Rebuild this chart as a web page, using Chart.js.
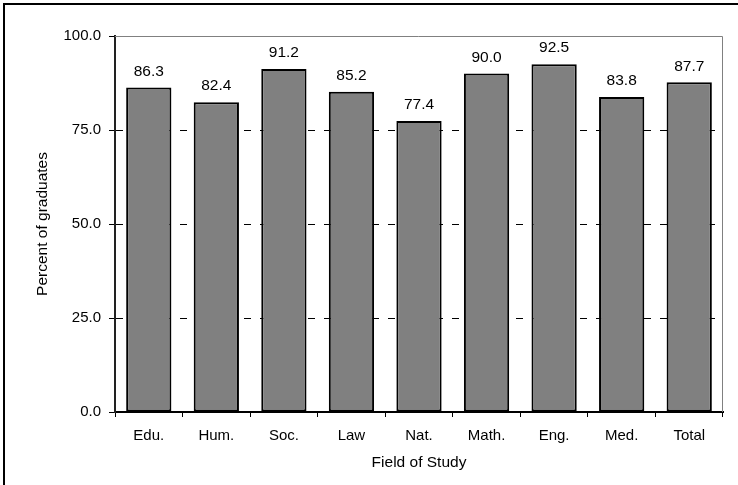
<!DOCTYPE html>
<html lang="en">
<head>
    <meta charset="UTF-8">
    <title>Percent of graduates by field of study</title>
    <script src="https://cdn.jsdelivr.net/npm/chart.js"></script>
    <style>
        html, body { margin: 0; padding: 0; background: #fff; }
        #wrap { width: 738px; height: 485px; }
    </style>
</head>
<body>
    <div id="wrap">
        <canvas id="gradChart" width="738" height="485"></canvas>
    </div>

    <script>
        // data
        const fields = ['Edu.', 'Hum.', 'Soc.', 'Law', 'Nat.', 'Math.', 'Eng.', 'Med.', 'Total'];
        const percentGraduates = [86.3, 82.4, 91.2, 85.2, 77.4, 90.0, 92.5, 83.8, 87.7];
        const yTicks = [0, 25, 50, 75, 100];

        const FONT = 'Liberation Sans, Arial, sans-serif';

        // outer frame (only left/top show in the picture) + grey plot border
        const framePlugin = {
            id: 'frame',
            beforeDatasetsDraw(chart) {
                const { ctx, chartArea: a } = chart;
                ctx.save();
                ctx.strokeStyle = '#808080';
                ctx.lineWidth = 1;
                ctx.beginPath();
                ctx.moveTo(a.left, a.top + 0.5);
                ctx.lineTo(a.right - 0.5, a.top + 0.5);
                ctx.lineTo(a.right - 0.5, a.bottom);
                ctx.stroke();
                ctx.restore();
            },
            afterDraw(chart) {
                const ctx = chart.ctx;
                ctx.save();
                ctx.strokeStyle = '#000';
                ctx.lineWidth = 2;
                ctx.beginPath();
                ctx.moveTo(4, 485);
                ctx.lineTo(4, 4);
                ctx.lineTo(738, 4);
                ctx.stroke();
                ctx.restore();
            }
        };

        // value labels above the bars, on a white box
        const valueLabels = {
            id: 'valueLabels',
            afterDatasetsDraw(chart) {
                const { ctx } = chart;
                const meta = chart.getDatasetMeta(0);
                ctx.save();
                ctx.font = '15.5px ' + FONT;
                ctx.textAlign = 'center';
                ctx.textBaseline = 'middle';
                meta.data.forEach((bar, i) => {
                    const txt = percentGraduates[i].toFixed(1);
                    const w = ctx.measureText(txt).width + 8;
                    const y = bar.y - 17;
                    ctx.fillStyle = '#fff';
                    ctx.fillRect(bar.x - w / 2, y - 9, w, 18);
                    ctx.fillStyle = '#000';
                    ctx.fillText(txt, bar.x, y + 1);
                });
                ctx.restore();
            }
        };

        const ctx = document.getElementById('gradChart').getContext('2d');
        new Chart(ctx, {
            type: 'bar',
            data: {
                labels: fields,
                datasets: [{
                    data: percentGraduates,
                    backgroundColor: '#808080',
                    borderColor: '#000',
                    borderWidth: 2,
                    borderSkipped: false,
                    barPercentage: 0.67,
                    categoryPercentage: 1
                }]
            },
            options: {
                responsive: false,
                animation: false,
                devicePixelRatio: 1,
                layout: { padding: { top: 36, right: 15, left: 0, bottom: 0 } },
                plugins: {
                    legend: { display: false },
                    tooltip: { enabled: false }
                },
                scales: {
                    x: {
                        offset: true,
                        grid: {
                            offset: true,
                            drawOnChartArea: false,
                            tickLength: 5,
                            tickColor: '#000',
                            tickWidth: 1
                        },
                        border: { color: '#000', width: 2 },
                        ticks: {
                            color: '#000',
                            font: { family: FONT, size: 15 },
                            padding: 10
                        },
                        title: {
                            display: true,
                            text: 'Field of Study',
                            color: '#000',
                            font: { family: FONT, size: 15.5 },
                            padding: { top: 0, bottom: 13 }
                        },
                        afterFit(scale) { scale.height = 73; }
                    },
                    y: {
                        min: 0,
                        max: 100,
                        afterBuildTicks(scale) {
                            scale.ticks = yTicks.map(v => ({ value: v }));
                        },
                        grid: {
                            color: c => (c.tick && (c.tick.value === 0 || c.tick.value === 100)) ? 'rgba(0,0,0,0)' : '#000',
                            lineWidth: 1,
                            tickLength: 6,
                            tickColor: '#000',
                            tickWidth: 1,
                            tickBorderDash: []
                        },
                        border: { color: '#222', width: 2, dash: [7, 9] },
                        ticks: {
                            color: '#000',
                            font: { family: FONT, size: 15 },
                            padding: 8,
                            callback: v => Number(v).toFixed(1)
                        },
                        title: {
                            display: true,
                            text: 'Percent of graduates',
                            color: '#000',
                            font: { family: FONT, size: 15.5 },
                            padding: { top: 33, bottom: 0 }
                        },
                        afterFit(scale) { scale.width = 115; }
                    }
                }
            },
            plugins: [framePlugin, valueLabels]
        });
    </script>
</body>
</html>
